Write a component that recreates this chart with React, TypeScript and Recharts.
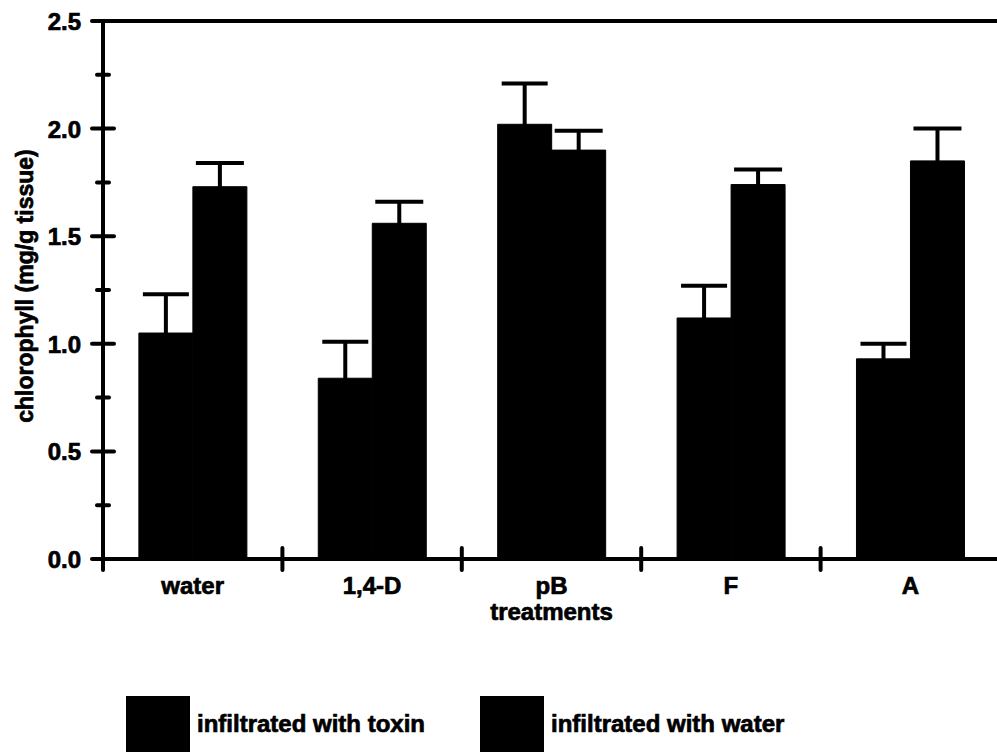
import React from 'react';
import { BarChart, Bar, XAxis, YAxis, ErrorBar, Legend, ReferenceLine } from 'recharts';

// Chlorophyll content per treatment, means with upper standard errors
const categories = ['water', '1,4-D', 'pB', 'F', 'A'];
const toxinMeans = [1.05, 0.84, 2.02, 1.12, 0.93];
const toxinErrors = [0.18, 0.17, 0.19, 0.15, 0.07];
const waterMeans = [1.73, 1.56, 1.9, 1.74, 1.85];
const waterErrors = [0.11, 0.1, 0.09, 0.07, 0.15];

const yTicks = [0, 0.25, 0.5, 0.75, 1, 1.25, 1.5, 1.75, 2, 2.25, 2.5];
const yLabelTicks = [0, 0.5, 1, 1.5, 2, 2.5];

const rows = categories.map((name, i) => ({
  name,
  toxin: toxinMeans[i],
  toxinErr: toxinErrors[i],
  water: waterMeans[i],
  waterErr: waterErrors[i],
}));

const FONT = '"Liberation Sans", Arial, Helvetica, sans-serif';
const INK = '#000';
const HEAVY = 0.7; // extra outline that thickens the bold lettering

function YTick(props: any) {
  const { x, y, payload } = props;
  const major = yLabelTicks.includes(payload.value);
  const half = major ? 11 : 6;
  return (
    <g>
      <line x1={x - half} x2={x + half} y1={y} y2={y} stroke={INK} strokeWidth={4} strokeLinecap="round" />
      {major && (
        <text
          x={x - 22}
          y={y + 9}
          textAnchor="end"
          fontFamily={FONT}
          fontWeight="bold"
          fontSize={24}
          fill={INK}
          stroke={INK}
          strokeWidth={HEAVY}
        >
          {Number(payload.value).toFixed(1)}
        </text>
      )}
    </g>
  );
}

function XTick(props: any) {
  const { x, y, payload, index } = props;
  const half = payload && typeof payload.offset === 'number' ? payload.offset : 0;
  return (
    <g>
      <line x1={x + half} x2={x + half} y1={y - 11} y2={y + 11} stroke={INK} strokeWidth={4} strokeLinecap="round" />
      {index === 0 && (
        <line x1={x - half} x2={x - half} y1={y} y2={y + 11} stroke={INK} strokeWidth={4} strokeLinecap="round" />
      )}
      <text
        x={x}
        y={y + 35}
        textAnchor="middle"
        fontFamily={FONT}
        fontWeight="bold"
        fontSize={24}
        fill={INK}
        stroke={INK}
        strokeWidth={HEAVY}
      >
        {payload.value}
      </text>
    </g>
  );
}

const renderLegend = (props: any) => {
  const items = props.payload ?? [];
  return (
    <div
      style={{
        display: 'flex',
        alignItems: 'center',
        paddingLeft: 126,
        fontFamily: FONT,
        fontWeight: 'bold',
        fontSize: 24,
        color: INK,
        WebkitTextStroke: `${HEAVY}px ${INK}`,
      }}
    >
      {items.map((it: any, i: number) => (
        <div key={i} style={{ display: 'flex', alignItems: 'center', marginRight: 55 }}>
          <div style={{ width: 64, height: 56, background: it.color }} />
          <span style={{ marginLeft: 7, lineHeight: '56px', whiteSpace: 'nowrap' }}>{it.value}</span>
        </div>
      ))}
    </div>
  );
};

export default function App() {
  return (
    <div style={{ position: 'absolute', left: 0, top: 0, background: '#fff' }}>
      <BarChart
        width={997}
        height={753}
        data={rows}
        margin={{ top: 21, right: -3, left: 0, bottom: 134 }}
        barCategoryGap="20%"
        barGap={0}
      >
        <XAxis
          dataKey="name"
          height={60}
          tickSize={0}
          tickMargin={0}
          axisLine={{ stroke: INK, strokeWidth: 4 }}
          tickLine={false}
          tick={<XTick />}
          interval={0}
          label={{
            value: 'treatments',
            position: 'center',
            dy: 22,
            fontFamily: FONT,
            fontWeight: 'bold',
            fontSize: 24,
            fill: INK,
            stroke: INK,
            strokeWidth: HEAVY,
          }}
        />
        <YAxis
          width={103}
          domain={[0, 2.5]}
          ticks={yTicks}
          interval={0}
          tickSize={0}
          tickMargin={0}
          axisLine={{ stroke: INK, strokeWidth: 4 }}
          tickLine={false}
          tick={<YTick />}
          label={{
            value: 'chlorophyll (mg/g tissue)',
            angle: -90,
            position: 'center',
            dx: -27,
            dy: -4,
            fontFamily: FONT,
            fontWeight: 'bold',
            fontSize: 23,
            fill: INK,
            stroke: INK,
            strokeWidth: HEAVY,
          }}
        />
        <ReferenceLine y={2.5} stroke={INK} strokeWidth={4} />
        <Bar dataKey="toxin" name="infiltrated with toxin" fill={INK} stroke={INK} strokeWidth={1} isAnimationActive={false}>
          <ErrorBar dataKey="toxinErr" direction="y" width={23} stroke={INK} strokeWidth={4} />
        </Bar>
        <Bar dataKey="water" name="infiltrated with water" fill={INK} stroke={INK} strokeWidth={1} isAnimationActive={false}>
          <ErrorBar dataKey="waterErr" direction="y" width={24} stroke={INK} strokeWidth={4} />
        </Bar>
        <Legend
          layout="horizontal"
          verticalAlign="middle"
          align="center"
          content={renderLegend}
          wrapperStyle={{ top: 696, left: 0, width: 997, height: 56 }}
        />
      </BarChart>
    </div>
  );
}
